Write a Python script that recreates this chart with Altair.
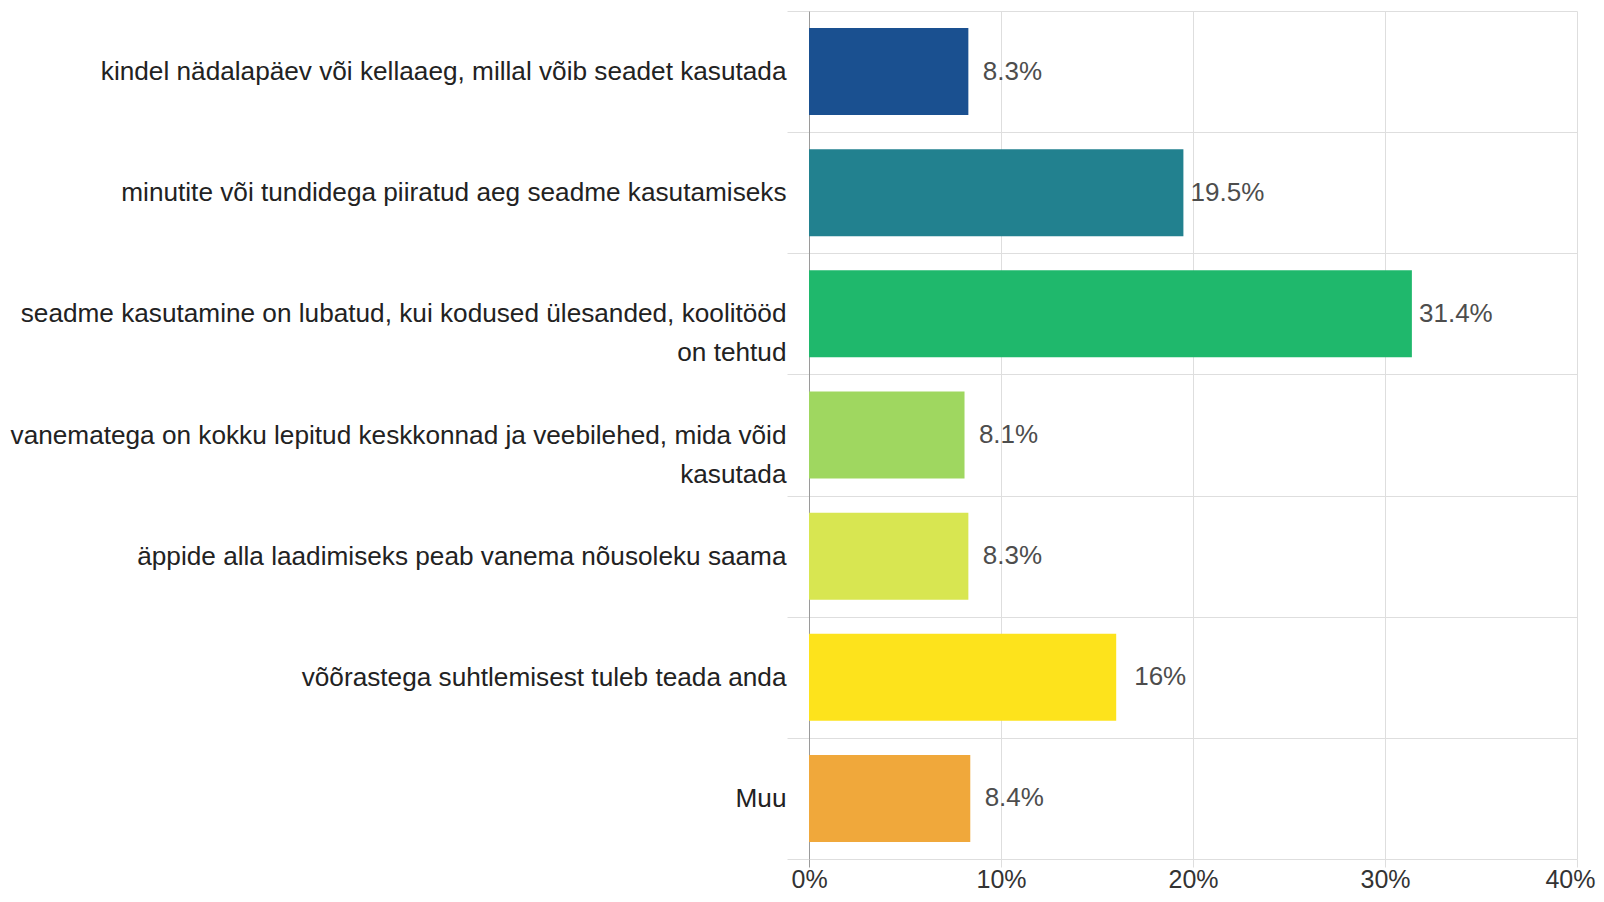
import altair as alt
import pandas as pd

categories = [
    "kindel nädalapäev või kellaaeg, millal võib seadet kasutada",
    "minutite või tundidega piiratud aeg seadme kasutamiseks",
    "seadme kasutamine on lubatud, kui kodused ülesanded, koolitööd|on tehtud",
    "vanematega on kokku lepitud keskkonnad ja veebilehed, mida võid|kasutada",
    "äppide alla laadimiseks peab vanema nõusoleku saama",
    "võõrastega suhtlemisest tuleb teada anda",
    "Muu",
]
values = [8.3, 19.5, 31.4, 8.1, 8.3, 16, 8.4]
colors = ["#1a5090", "#22818f", "#1fb86c", "#9fd760", "#d8e651", "#fde31c", "#f0a83b"]
x_ticks = [0, 10, 20, 30, 40]

FONT = "Liberation Sans"
GRID = "#dedede"
AXIS = "#9a9a9a"

df = pd.DataFrame({"cat": categories, "value": values})

y_enc = alt.Y(
    "cat:N",
    sort=categories,
    scale=alt.Scale(paddingInner=0, paddingOuter=0),
    axis=alt.Axis(
        title=None,
        labelExpr="split(datum.label, '|')",
        labelFont=FONT,
        labelFontSize=26.2,
        labelColor="#222222",
        labelLineHeight=39,
        labelLimit=0,
        labelPadding=1,
        tickBand="extent",
        tickSize=22,
        tickColor=GRID,
        grid=True,
        gridColor=GRID,
        domainColor=AXIS,
    ),
)

x_enc = alt.X(
    "value:Q",
    scale=alt.Scale(domain=[0, 40], nice=False),
    axis=alt.Axis(
        title=None,
        values=x_ticks,
        labelExpr="datum.value + '%'",
        labelFont=FONT,
        labelFontSize=25,
        labelColor="#333333",
        labelPadding=0,
        labelFlush=True,
        labelFlushOffset=18,
        grid=True,
        gridColor=GRID,
        domain=False,
        tickSize=8,
        tickColor=alt.condition("datum.value == 0", alt.value(AXIS), alt.value(GRID)),
    ),
)

base = alt.Chart(df).encode(y=y_enc, x=x_enc)

bars = base.mark_bar(size=87).encode(
    color=alt.Color("cat:N", scale=alt.Scale(domain=categories, range=colors), legend=None)
)

labels = base.transform_calculate(label="datum.value + '%'").mark_text(
    align="center", baseline="middle", dx=44, font=FONT, fontSize=26, color="#4d4d4d"
).encode(text="label:N")

chart = (
    alt.layer(bars, labels)
    .properties(
        width=768,
        height=848,
        autosize=alt.AutoSizeParams(type="none"),
        padding={"left": 801, "top": 3, "right": 19, "bottom": 35},
    )
    .configure_view(stroke=None)
)

chart.save("out.html", embed_options={"renderer": "svg", "actions": False})
